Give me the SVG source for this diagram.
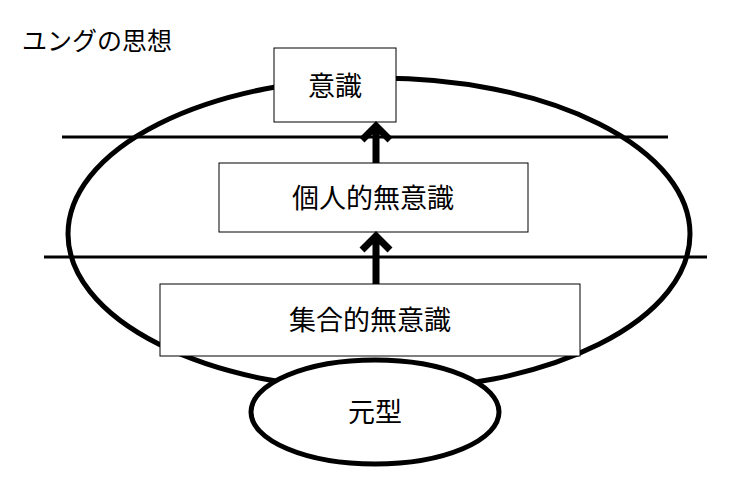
<svg xmlns="http://www.w3.org/2000/svg" width="733" height="498" viewBox="0 0 733 498">
<style>
.s{fill:none;stroke:#000;stroke-width:5}
.b{fill:#fff;stroke:#000;stroke-width:1}
.l{stroke:#000;stroke-width:3}
.t{font-family:"Liberation Serif","Noto Sans CJK JP",serif;font-size:27px;fill:#000;text-anchor:middle}
.a{fill:none;stroke:#000;stroke-width:7;stroke-linejoin:miter}
</style>
<rect width="733" height="498" fill="#fff"/>
<text x="22" y="50" style="font-family:'Liberation Serif','Noto Sans CJK JP',serif;font-size:25px">ユングの思想</text>
<ellipse class="s" cx="379" cy="234" rx="311" ry="156"/>
<g id="connectors">
<line class="l" x1="62" y1="137" x2="668" y2="137"/>
<line class="l" x1="44" y1="257" x2="707" y2="257"/>
</g>
<g id="n1"><rect class="b" x="274" y="48" width="122" height="74"/><text class="t" x="335" y="96">意識</text></g>
<g id="n2"><rect class="b" x="219" y="163" width="309" height="69"/><text class="t" x="373" y="208">個人的無意識</text></g>
<g id="n3"><rect class="b" x="160" y="284" width="420" height="72"/><text class="t" x="370" y="330">集合的無意識</text></g>
<g id="n4"><ellipse cx="375" cy="412" rx="124" ry="52" fill="#fff" stroke="#000" stroke-width="5"/><text class="t" x="375" y="422">元型</text></g>
<g id="arrows">
<path class="a" d="M376 163V126M362 140L376 126L390 140"/>
<path class="a" d="M376 284V236M362 250L376 236L390 250"/>
</g>
</svg>
